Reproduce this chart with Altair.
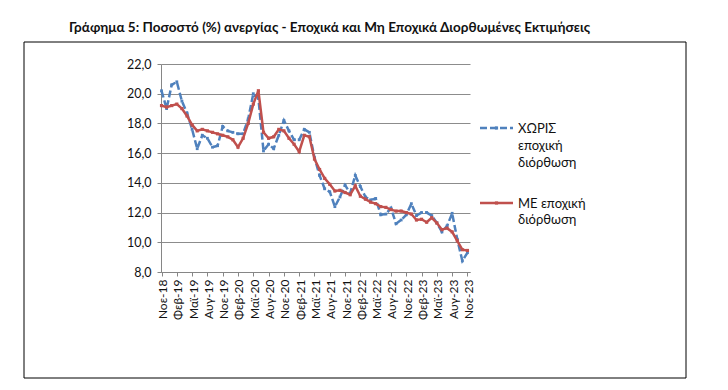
import json
import altair as alt
import pandas as pd

tick_labels = ["Νοε-18", "Φεβ-19", "Μαϊ-19", "Αυγ-19", "Νοε-19", "Φεβ-20", "Μαϊ-20",
               "Αυγ-20", "Νοε-20", "Φεβ-21", "Μαϊ-21", "Αυγ-21", "Νοε-21", "Φεβ-22",
               "Μαϊ-22", "Αυγ-22", "Νοε-22", "Φεβ-23", "Μαϊ-23", "Αυγ-23", "Νοε-23"]

# Not seasonally adjusted (ΧΩΡΙΣ εποχική διόρθωση), Nov 2018 .. Nov 2023
nsa = [20.2, 19.0, 20.6, 20.8, 19.5, 18.7, 17.6, 16.3, 17.2, 17.0, 16.4, 16.5,
       17.8, 17.5, 17.4, 17.3, 17.3, 18.3, 20.0, 19.7, 16.15, 16.6, 16.3, 17.2,
       18.2, 17.5, 16.9, 16.9, 17.6, 17.4, 15.7, 14.5, 13.6, 13.4, 12.4, 13.05,
       13.85, 13.3, 14.5, 13.75, 13.05, 12.85, 12.95, 11.85, 11.9, 12.3, 11.25, 11.5,
       11.85, 12.6, 11.8, 12.0, 12.0, 11.8, 11.3, 10.7, 11.1, 11.95, 10.2, 8.75, 9.3]

# Seasonally adjusted (ΜΕ εποχική διόρθωση)
sa = [19.2, 19.1, 19.2, 19.3, 19.0, 18.5, 17.9, 17.5, 17.6, 17.5, 17.4, 17.3,
      17.2, 17.1, 16.9, 16.4, 17.0, 18.0, 19.3, 20.2, 17.4, 17.0, 17.1, 17.6,
      17.5, 17.0, 16.6, 16.1, 17.2, 17.1, 15.6, 14.9, 14.3, 13.9, 13.45, 13.5,
      13.35, 13.2, 13.8, 13.1, 12.9, 12.7, 12.6, 12.4, 12.35, 12.2, 12.1, 12.1,
      12.0, 11.9, 11.5, 11.55, 11.35, 11.65, 11.3, 10.85, 10.95, 10.7, 10.1, 9.5, 9.45]

title_text = "Γράφημα 5: Ποσοστό (%) ανεργίας - Εποχικά και Μη Εποχικά Διορθωμένες Εκτιμήσεις"
legend_nsa = ["ΧΩΡΙΣ", "εποχική", "διόρθωση"]
legend_sa = ["ΜΕ εποχική", "διόρθωση"]
y_ticks = [8, 10, 12, 14, 16, 18, 20, 22]

BLUE = "#4F81BD"
RED = "#C0504D"
FONT = "Lato"

n = len(sa)
df = pd.DataFrame({"i": list(range(n)), "nsa": nsa, "sa": sa})
one = pd.DataFrame({"k": [0]})

label_expr = json.dumps(tick_labels, ensure_ascii=False) + "[round(datum.value/3)]"

x_enc = alt.X(
    "i:Q",
    scale=alt.Scale(domain=[-0.1, 60.5], nice=False, zero=False),
    axis=alt.Axis(
        title=None, values=list(range(0, 61, 3)), labelExpr=label_expr,
        labelAngle=270, labelAlign="right", labelBaseline="middle",
        grid=False, tickSize=4, labelPadding=3, labelFontSize=12, labelOffset=1,
        labelFont=FONT, labelColor="#111", domainColor="#868686",
        tickColor="#868686", labelOverlap=False, labelFlush=False, zindex=1,
    ),
)
y_axis = alt.Axis(
    title=None, values=y_ticks, tickCount=len(y_ticks),
    labelExpr="replace(format(datum.value, '.1f'), '.', ',')",
    grid=True, gridColor="#8c8c8c", gridWidth=1, tickSize=4, labelPadding=6,
    labelFontSize=12.5, labelFont=FONT, labelColor="#111",
    labelOverlap=False, labelFlush=False,
    domainColor="#868686", tickColor="#868686", zindex=0,
)
y_scale = alt.Scale(domain=[8, 22], nice=False, zero=False)


def y_of(field):
    return alt.Y(f"{field}:Q", scale=y_scale, axis=y_axis)


frame = alt.Chart(one).mark_rect(fill="white", fillOpacity=0, stroke="black", strokeWidth=1).encode(
    x=alt.value(-137), x2=alt.value(525), y=alt.value(-22), y2=alt.value(314)
)

blue_line = alt.Chart(df).mark_line(color=BLUE, strokeWidth=2.5, strokeDash=[7, 3]).encode(
    x=x_enc, y=y_of("nsa")
)
blue_pts = alt.Chart(df).mark_point(shape="square", filled=True, size=8, color=BLUE, opacity=1).encode(
    x=x_enc, y=y_of("nsa")
)
red_line = alt.Chart(df).mark_line(color=RED, strokeWidth=2.5).encode(
    x=x_enc, y=y_of("sa")
)
red_pts = alt.Chart(df).mark_point(shape="square", filled=True, size=10, color=RED, opacity=1).encode(
    x=x_enc, y=y_of("sa")
)

title = alt.Chart(one).mark_text(
    text=title_text, font=FONT, fontSize=13.5, fontWeight="bold", align="left",
    baseline="alphabetic", color="#111"
).encode(x=alt.value(-92), y=alt.value(-32.3))

leg_b_rule = alt.Chart(one).mark_rule(color=BLUE, strokeWidth=2.5, strokeDash=[7, 3]).encode(
    x=alt.value(319), x2=alt.value(352), y=alt.value(64)
)
leg_b_pt = alt.Chart(one).mark_point(shape="square", filled=True, size=10, color=BLUE, opacity=1).encode(
    x=alt.value(335.5), y=alt.value(64)
)
leg_b_txt = alt.Chart(one).mark_text(
    text=legend_nsa, font=FONT, fontSize=13, align="left", baseline="alphabetic",
    lineHeight=17, color="#111"
).encode(x=alt.value(357), y=alt.value(68.5))

leg_r_rule = alt.Chart(one).mark_rule(color=RED, strokeWidth=2.5).encode(
    x=alt.value(319), x2=alt.value(352), y=alt.value(139)
)
leg_r_pt = alt.Chart(one).mark_point(shape="square", filled=True, size=10, color=RED, opacity=1).encode(
    x=alt.value(335.5), y=alt.value(139)
)
leg_r_txt = alt.Chart(one).mark_text(
    text=legend_sa, font=FONT, fontSize=13, align="left", baseline="alphabetic",
    lineHeight=16.5, color="#111"
).encode(x=alt.value(357), y=alt.value(143.5))

chart = alt.layer(
    frame, blue_line, blue_pts, red_line, red_pts, title,
    leg_b_rule, leg_b_pt, leg_b_txt, leg_r_rule, leg_r_pt, leg_r_txt,
).properties(
    width=309, height=208,
    autosize=alt.AutoSizeParams(type="none"),
    padding={"left": 153, "top": 56, "right": 250, "bottom": 110},
    background="white",
).configure_view(stroke=None)

chart.save("out.html", embed_options={"renderer": "svg", "actions": False})
